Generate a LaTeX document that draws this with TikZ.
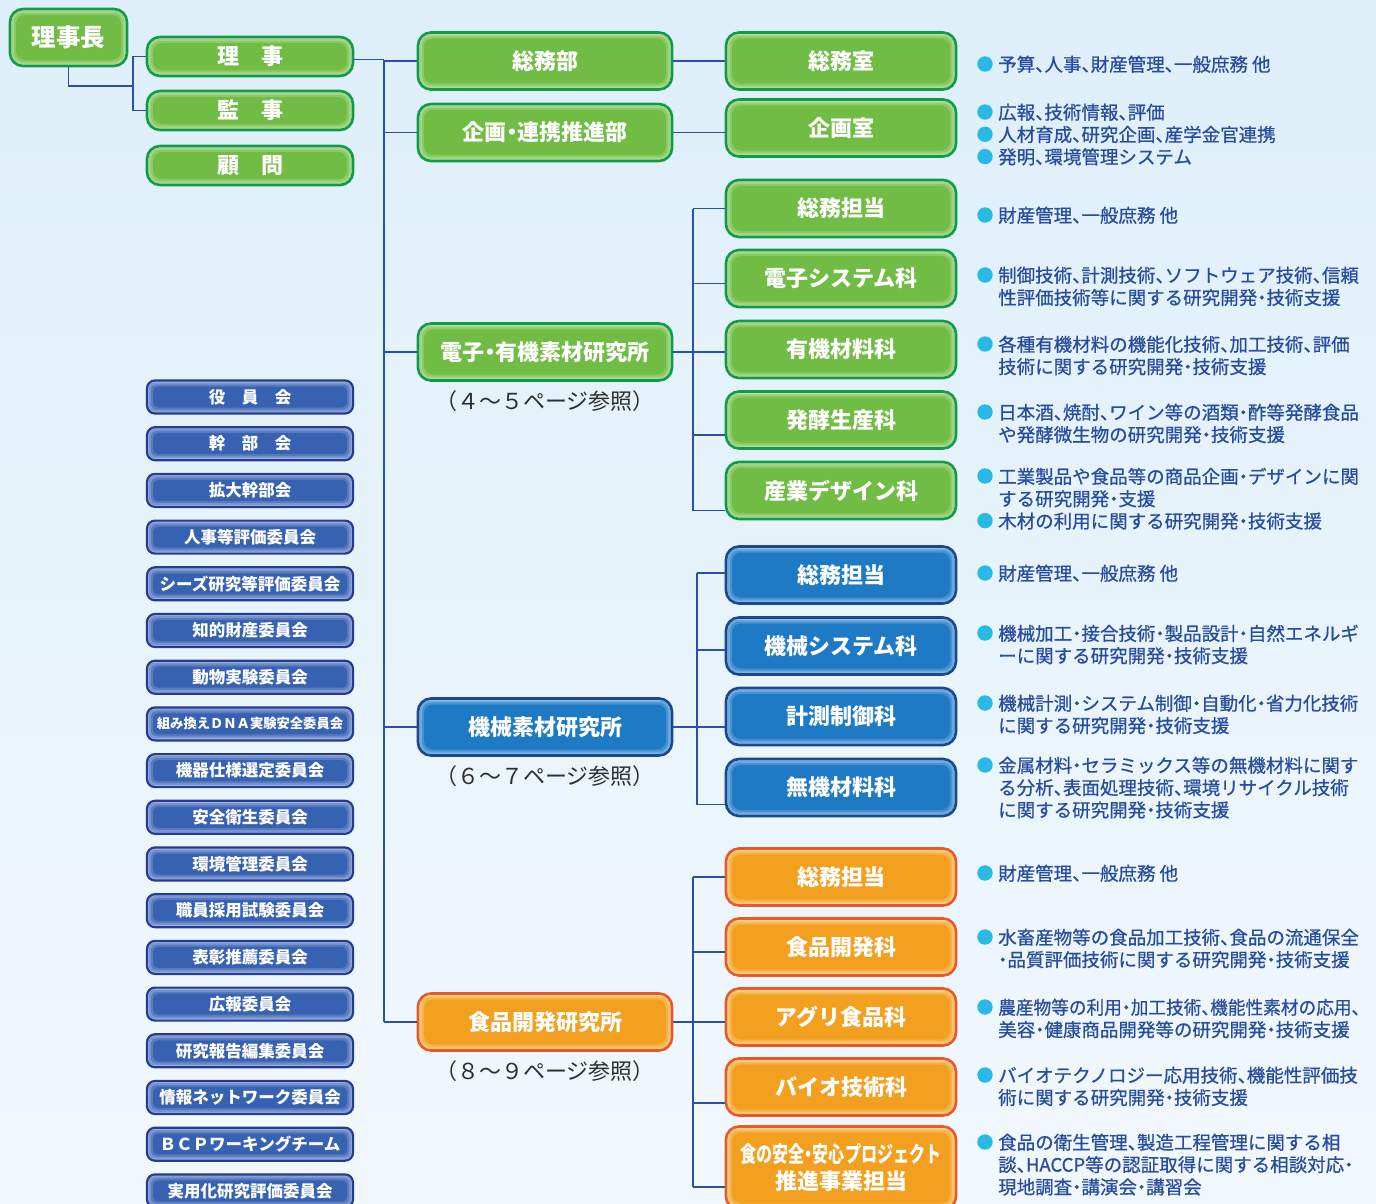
\documentclass[tikz,border=0pt]{standalone}
\usepackage{fontspec}
\setmainfont{Noto Sans CJK JP}[RawFeature={+halt}]
\newfontfamily\jpfull{Noto Sans CJK JP}
\newfontfamily\jpdesc{Noto Sans CJK JP}[RawFeature={+halt}, FakeBold=0.7]
\usetikzlibrary{calc}
\definecolor{bgA}{RGB}{222,239,250}
\definecolor{bgB}{RGB}{241,248,253}
\definecolor{connc}{RGB}{45,80,165}
\definecolor{gBd}{RGB}{16,155,75}
\definecolor{gL}{RGB}{200,230,175}
\definecolor{gC}{RGB}{112,188,68}
\definecolor{bBd}{RGB}{25,72,140}
\definecolor{bL}{RGB}{160,200,238}
\definecolor{bC}{RGB}{30,122,196}
\definecolor{cBd}{RGB}{35,60,145}
\definecolor{cL}{RGB}{165,182,225}
\definecolor{cC}{RGB}{55,98,178}
\definecolor{oBd}{RGB}{232,88,42}
\definecolor{oL}{RGB}{253,222,160}
\definecolor{oC}{RGB}{243,160,32}
\definecolor{descc}{RGB}{40,76,158}
\definecolor{bulc}{RGB}{40,185,230}
\definecolor{refc}{RGB}{45,45,45}
\newcommand{\glowfill}[3]{%
  \fill[#1] (path picture bounding box.south west) rectangle (path picture bounding box.north east);
  \fill[#1!60!#2, rounded corners=#3] ($(path picture bounding box.south west)+(2pt,2pt)$) rectangle ($(path picture bounding box.north east)+(-2pt,-2pt)$);
  \fill[#1!30!#2, rounded corners=#3] ($(path picture bounding box.south west)+(4pt,4pt)$) rectangle ($(path picture bounding box.north east)+(-4pt,-4pt)$);
  \fill[#2, rounded corners=#3] ($(path picture bounding box.south west)+(6pt,6pt)$) rectangle ($(path picture bounding box.north east)+(-6pt,-6pt)$);
}
\newcommand{\bult}[1]{\fill[bulc] (985,#1) circle (7.7pt);}
\tikzset{
  boxbase/.style={draw, line width=2.6pt, text=white, inner sep=0pt, align=center},
  gbox/.style={boxbase, draw=gBd, rounded corners=13pt, path picture={\glowfill{gL}{gC}{9pt}}},
  bbox/.style={boxbase, draw=bBd, rounded corners=13pt, path picture={\glowfill{bL}{bC}{9pt}}},
  obox/.style={boxbase, draw=oBd, rounded corners=13pt, path picture={\glowfill{oL}{oC}{9pt}}},
  cbox/.style={boxbase, draw=cBd, line width=2.2pt, rounded corners=8pt, minimum width=206pt, minimum height=33pt, path picture={\glowfill{cL}{cC}{5pt}}, font=\fontsize{16.5pt}{18pt}\selectfont\bfseries},
  lvtwo/.style={minimum width=254pt, minimum height=57pt, font=\fontsize{22pt}{27pt}\selectfont\bfseries},
  lvthree/.style={minimum width=230pt, minimum height=57pt, font=\fontsize{22pt}{27pt}\selectfont\bfseries},
  topbox/.style={minimum width=206pt, minimum height=39pt, font=\fontsize{22pt}{26pt}\selectfont\bfseries},
  conn/.style={draw=connc, line width=1.8pt},
  desc/.style={anchor=north west, inner sep=0pt, align=left, text=descc, font=\jpdesc\fontsize{18.5pt}{22.3pt}\selectfont},
  pref/.style={inner sep=0pt, text=refc, font=\jpfull\fontsize{22pt}{26pt}\selectfont},
}
\begin{document}
\begin{tikzpicture}[x=1pt,y=-1pt]
\useasboundingbox (0,0) rectangle (1376,1203);
\shade[top color=bgA, bottom color=bgB] (0,0) rectangle (1376,1203);

% top-left
\node[gbox, minimum width=117pt, minimum height=57pt, font=\fontsize{24.5pt}{28pt}\selectfont\bfseries] (rijicho) at (68.5,37.5) {理事長};
\node[gbox, topbox] (riji) at (250,56.5) {理　事};
\node[gbox, topbox] (kanji) at (250,110.5) {監　事};
\node[gbox, topbox] (komon) at (250,165.5) {顧　問};

% level 2
\node[gbox, lvtwo] (somubu) at (545,61) {総務部};
\node[gbox, lvtwo] (kikaku) at (545,132.5) {企画・連携推進部};
\node[gbox, lvtwo] (denshi) at (545,352) {電子・有機素材研究所};
\node[bbox, lvtwo] (kikai) at (545,727) {機械素材研究所};
\node[obox, lvtwo] (food) at (545,1022) {食品開発研究所};
\node[pref] (pr1) at (545,401) {（４～５ページ参照）};
\node[pref] (pr2) at (545,776) {（６～７ページ参照）};
\node[pref] (pr3) at (545,1071) {（８～９ページ参照）};

% level 3
\node[gbox, lvthree] (somushitsu) at (841,61) {総務室};
\node[gbox, lvthree] (kikakushitsu) at (841,128) {企画室};
\node[gbox, lvthree] (g1) at (841,208.5) {総務担当};
\node[gbox, lvthree] (g2) at (841,278.5) {電子システム科};
\node[gbox, lvthree] (g3) at (841,349.5) {有機材料科};
\node[gbox, lvthree] (g4) at (841,420) {発酵生産科};
\node[gbox, lvthree] (g5) at (841,490.5) {産業デザイン科};
\node[bbox, lvthree] (b1) at (841,575) {総務担当};
\node[bbox, lvthree] (b2) at (841,646) {機械システム科};
\node[bbox, lvthree] (b3) at (841,716.5) {計測制御科};
\node[bbox, lvthree] (b4) at (841,787.5) {無機材料科};
\node[obox, lvthree] (o1) at (841,877) {総務担当};
\node[obox, lvthree] (o2) at (841,947) {食品開発科};
\node[obox, lvthree] (o3) at (841,1017) {アグリ食品科};
\node[obox, lvthree] (o4) at (841,1087) {バイオ技術科};
\node[obox, lvthree, minimum height=83pt] (o5) at (841,1168) {\scalebox{0.73}[1]{食の安全・安心プロジェクト}\\推進事業担当};

% committees
\foreach \t [count=\i from 0] in {役　員　会,幹　部　会,拡大幹部会,人事等評価委員会,シーズ研究等評価委員会,知的財産委員会,動物実験委員会,{\fontsize{13.3pt}{15pt}\selectfont 組み換えＤＮＡ実験安全委員会},機器仕様選定委員会,安全衛生委員会,環境管理委員会,職員採用試験委員会,表彰推薦委員会,広報委員会,研究報告編集委員会,情報ネットワーク委員会,ＢＣＰワーキングチーム,実用化研究評価委員会}
  \node[cbox] (c\i) at (250,397+\i*46.7) {\t};

% connectors
\coordinate (j1) at (133,86);
\coordinate (tr) at (384,0);
\coordinate (gb) at (693,0);
\coordinate (bb) at (697,0);
\coordinate (ob) at (693,0);
\draw[conn] (rijicho.south) |- (j1);
\draw[conn] (riji.west) -| (j1);
\draw[conn] (kanji.west) -| (j1);
\draw[conn] ([yshift=-3pt]riji.east) -- ([yshift=-3pt]riji.east -| tr);
\draw[conn] ([yshift=-3pt]riji.east -| tr) -- (food.west -| tr);
\foreach \n in {somubu,kikaku,denshi,kikai,food}
  \draw[conn] (\n.west -| tr) -- (\n.west);
\draw[conn] (somubu.east) -- (somubu.east -| somushitsu.west);
\draw[conn] (kikaku.east) -- (kikaku.east -| kikakushitsu.west);
% green group
\coordinate (g2t) at ([yshift=-5pt]g2.west);
\coordinate (g4t) at ([yshift=-15pt]g4.west);
\coordinate (g5t) at ([yshift=-20pt]g5.west);
\draw[conn] (denshi.east) -- (denshi.east -| g3.west);
\draw[conn] (g1.west -| gb) -- (g5t -| gb);
\draw[conn] (g1.west -| gb) -- (g1.west);
\draw[conn] (g2t -| gb) -- (g2t);
\draw[conn] (g4t -| gb) -- (g4t);
\draw[conn] (g5t -| gb) -- (g5t);
% blue group
\coordinate (b2t) at ([yshift=-4pt]b2.west);
\coordinate (b4t) at ([yshift=-17pt]b4.west);
\draw[conn] (kikai.east) -- (kikai.east -| b3.west);
\draw[conn] ([yshift=2pt]b1.west -| bb) -- (b4t -| bb);
\draw[conn] ([yshift=2pt]b1.west -| bb) -- ([yshift=2pt]b1.west);
\draw[conn] (b2t -| bb) -- (b2t);
\draw[conn] (b4t -| bb) -- (b4t);
% orange group
\coordinate (o2t) at ([yshift=-5pt]o2.west);
\coordinate (o4t) at ([yshift=-16pt]o4.west);
\coordinate (o5t) at ([yshift=-19pt]o5.west);
\draw[conn] (food.east) -- (food.east -| o3.west);
\draw[conn] (o1.west -| ob) -- (o5t -| ob);
\draw[conn] (o1.west -| ob) -- (o1.west);
\draw[conn] (o2t -| ob) -- (o2t);
\draw[conn] (o4t -| ob) -- (o4t);
\draw[conn] (o5t -| ob) -- (o5t);

% descriptions
\bult{64}
\node[desc] (d1) at (998,55.5) {予算、人事、財産管理、一般庶務 他};
\bult{112}\bult{134.3}\bult{156.6}
\node[desc] (d2) at (998,103.5) {広報、技術情報、評価\\人材育成、研究企画、産学金官連携\\発明、環境管理システム};
\bult{215}
\node[desc] (d3) at (998,206.5) {財産管理、一般庶務 他};
\bult{275}
\node[desc] (d4) at (998,266.5) {制御技術、計測技術、ソフトウェア技術、信頼\\性評価技術等に関する研究開発・技術支援};
\bult{344}
\node[desc] (d5) at (998,335.5) {各種有機材料の機能化技術、加工技術、評価\\技術に関する研究開発・技術支援};
\bult{412}
\node[desc] (d6) at (998,403.5) {日本酒、焼酎、ワイン等の酒類・酢等発酵食品\\や発酵微生物の研究開発・技術支援};
\bult{476}\bult{520.6}
\node[desc] (d7) at (998,467.5) {工業製品や食品等の商品企画・デザインに関\\する研究開発・支援\\木材の利用に関する研究開発・技術支援};
\bult{573}
\node[desc] (d8) at (998,564.5) {財産管理、一般庶務 他};
\bult{633}
\node[desc] (d9) at (998,624.5) {機械加工・接合技術・製品設計・自然エネルギ\\ーに関する研究開発・技術支援};
\bult{703}
\node[desc] (d10) at (998,694.5) {機械計測・システム制御・自動化・省力化技術\\に関する研究開発・技術支援};
\bult{765}
\node[desc] (d11) at (998,756.5) {金属材料・セラミックス等の無機材料に関す\\る分析、表面処理技術、環境リサイクル技術\\に関する研究開発・技術支援};
\bult{873}
\node[desc] (d12) at (998,864.5) {財産管理、一般庶務 他};
\bult{937}
\node[desc] (d13) at (998,928.5) {水畜産物等の食品加工技術、食品の流通保全\\・品質評価技術に関する研究開発・技術支援};
\bult{1007}
\node[desc] (d14) at (998,998.5) {\scalebox{0.955}[1]{農産物等の利用・加工技術、機能性素材の応用、}\\美容・健康商品開発等の研究開発・技術支援};
\bult{1075}
\node[desc] (d15) at (998,1066.5) {バイオテクノロジー応用技術、機能性評価技\\術に関する研究開発・技術支援};
\bult{1142}
\node[desc] (d16) at (998,1133.5) {食品の衛生管理、製造工程管理に関する相\\談、HACCP等の認証取得に関する相談対応・\\現地調査・講演会・講習会};
\end{tikzpicture}
\end{document}
